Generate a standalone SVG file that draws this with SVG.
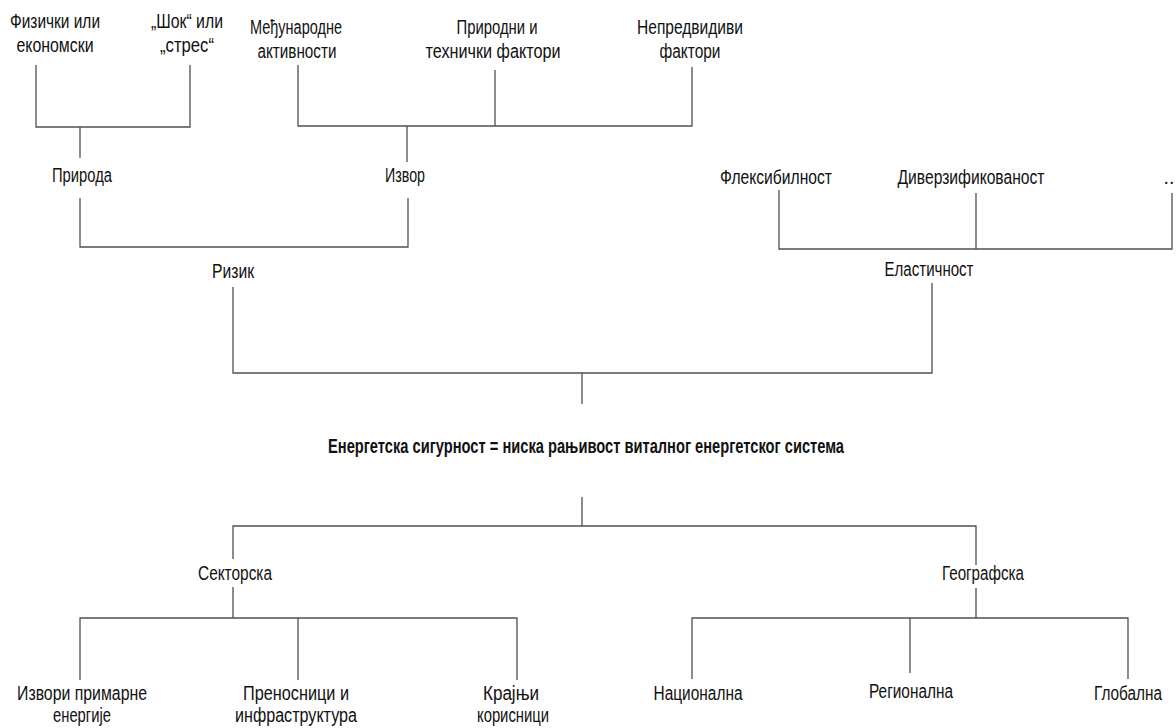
<svg xmlns="http://www.w3.org/2000/svg" width="1176" height="728" viewBox="0 0 1176 728">
<style>
.t{font-family:"Liberation Sans",Arial,sans-serif;font-size:19.5px;fill:#111;text-anchor:middle}
.b{font-weight:bold;font-size:21px}
.c{fill:none;stroke:#505050;stroke-width:1.3}
</style>
<rect width="1176" height="728" fill="#fff"/>
<g id="connectors" class="c">
<path d="M36 65V127H190V65M80 127V158"/>
<path d="M298 65V126H692V67M495 70V126M407 126V162"/>
<path d="M80 198V247H408V198"/>
<path d="M779 190V249H1172V193M976 193V249"/>
<path d="M233 287V373H932V283M582 373V404"/>
<path d="M582 497V526M233 559V526H976V565"/>
<path d="M233 587V618M80 680V618H517V680M298 618V680"/>
<path d="M976 588V618M692 679V618H1128V679M910 618V673"/>
</g>
<g id="n-fizicki"><text class="t" x="55" y="28" textLength="90" lengthAdjust="spacingAndGlyphs">Физички или</text><text class="t" x="55" y="52" textLength="77" lengthAdjust="spacingAndGlyphs">економски</text></g>
<g id="n-sok"><text class="t" x="187" y="28" textLength="72" lengthAdjust="spacingAndGlyphs">„Шок“ или</text><text class="t" x="187" y="52" textLength="54" lengthAdjust="spacingAndGlyphs">„стрес“</text></g>
<g id="n-medjunarodne"><text class="t" x="296" y="34" textLength="92" lengthAdjust="spacingAndGlyphs">Међународне</text><text class="t" x="297" y="58" textLength="79" lengthAdjust="spacingAndGlyphs">активности</text></g>
<g id="n-prirodni"><text class="t" x="497" y="34" textLength="81" lengthAdjust="spacingAndGlyphs">Природни и</text><text class="t" x="493" y="58" textLength="135" lengthAdjust="spacingAndGlyphs">технички фактори</text></g>
<g id="n-nepredvidivi"><text class="t" x="690" y="34" textLength="106" lengthAdjust="spacingAndGlyphs">Непредвидиви</text><text class="t" x="690" y="58" textLength="61" lengthAdjust="spacingAndGlyphs">фактори</text></g>
<g id="n-priroda"><text class="t" x="82" y="182" textLength="60" lengthAdjust="spacingAndGlyphs">Природа</text></g>
<g id="n-izvor"><text class="t" x="405" y="182" textLength="40" lengthAdjust="spacingAndGlyphs">Извор</text></g>
<g id="n-fleksibilnost"><text class="t" x="776" y="184" textLength="112" lengthAdjust="spacingAndGlyphs">Флексибилност</text></g>
<g id="n-diverzifikovanost"><text class="t" x="971" y="184" textLength="147" lengthAdjust="spacingAndGlyphs">Диверзификованост</text></g>
<g id="n-more"><text class="t" x="1169" y="184">..</text></g>
<g id="n-rizik"><text class="t" x="233" y="278" textLength="42" lengthAdjust="spacingAndGlyphs">Ризик</text></g>
<g id="n-elasticnost"><text class="t" x="929" y="276" textLength="89" lengthAdjust="spacingAndGlyphs">Еластичност</text></g>
<g id="n-title"><text class="t b" x="586" y="453" textLength="516" lengthAdjust="spacingAndGlyphs">Енергетска сигурност = ниска рањивост виталног енергетског система</text></g>
<g id="n-sektorska"><text class="t" x="235" y="580" textLength="74" lengthAdjust="spacingAndGlyphs">Секторска</text></g>
<g id="n-geografska"><text class="t" x="983" y="580" textLength="82" lengthAdjust="spacingAndGlyphs">Географска</text></g>
<g id="n-izvori"><text class="t" x="82" y="700" textLength="130" lengthAdjust="spacingAndGlyphs">Извори примарне</text><text class="t" x="82" y="722" textLength="58" lengthAdjust="spacingAndGlyphs">енергије</text></g>
<g id="n-prenosnici"><text class="t" x="296" y="700" textLength="106" lengthAdjust="spacingAndGlyphs">Преносници и</text><text class="t" x="296" y="722" textLength="122" lengthAdjust="spacingAndGlyphs">инфраструктура</text></g>
<g id="n-krajnji"><text class="t" x="511" y="700" textLength="56" lengthAdjust="spacingAndGlyphs">Крајњи</text><text class="t" x="513" y="722" textLength="72" lengthAdjust="spacingAndGlyphs">корисници</text></g>
<g id="n-nacionalna"><text class="t" x="698" y="700" textLength="89" lengthAdjust="spacingAndGlyphs">Национална</text></g>
<g id="n-regionalna"><text class="t" x="911" y="698" textLength="84" lengthAdjust="spacingAndGlyphs">Регионална</text></g>
<g id="n-globalna"><text class="t" x="1128" y="700" textLength="68" lengthAdjust="spacingAndGlyphs">Глобална</text></g>
</svg>
